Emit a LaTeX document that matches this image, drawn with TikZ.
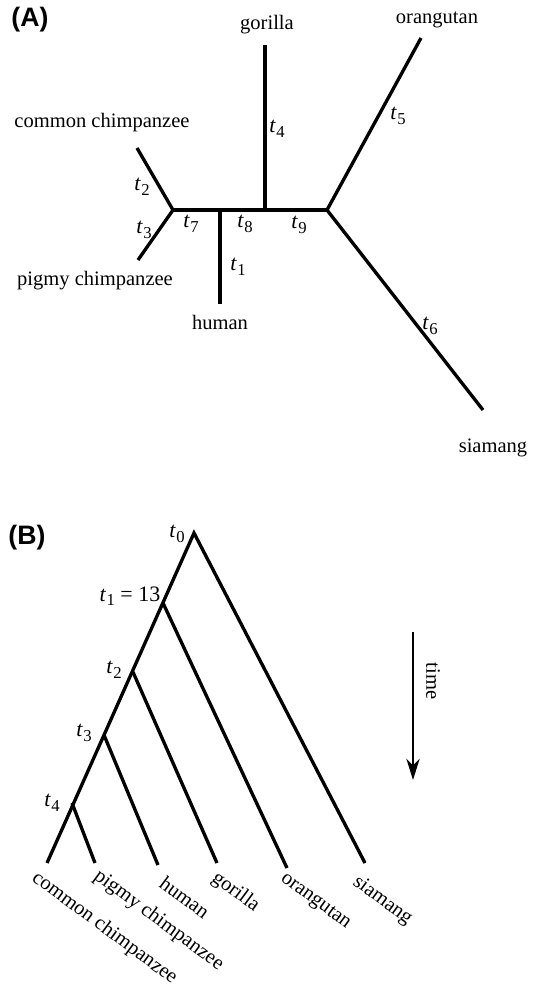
\documentclass[tikz,border=0pt]{standalone}
\usepackage{fontspec}
\setmainfont{Liberation Serif}
\newfontfamily\panelfont{Liberation Sans}
\usetikzlibrary{arrows.meta}
\newcommand\tv[1]{\textit{t}\kern0.3pt\raisebox{-0.45ex}{\fontsize{12.5}{13}\selectfont #1}}
\begin{document}
\begin{tikzpicture}[x=0.75pt,y=-0.75pt,
  br/.style={line width=2.5pt,line cap=butt},
  lbl/.style={font=\fontsize{15.4}{18}\selectfont,inner sep=0pt},
  tlab/.style={font=\fontsize{16.5}{18}\selectfont,inner sep=0pt},
  leaf/.style={font=\fontsize{15.4}{18}\selectfont,inner sep=0pt,rotate=-36.5,anchor=base west},
  panel/.style={font=\panelfont\bfseries\fontsize{20}{22}\selectfont,inner sep=0pt}]
\useasboundingbox (0,0) rectangle (540,988);
% ---------- Panel A ----------
\node[panel] (pA) at (30,20) {(A)};
\coordinate (cL) at (173,210);
\coordinate (cH) at (220,210);
\coordinate (cG) at (265,210);
\coordinate (cR) at (327,210);
\coordinate (aCom) at (137,148);
\coordinate (aPig) at (138,260);
\coordinate (aHum) at (220,304);
\coordinate (aGor) at (265,45);
\coordinate (aOra) at (421,38);
\coordinate (aSia) at (483,410);
\draw[br] (cL) -- (cR);
\draw[br] (aCom) -- (cL) -- (aPig);
\draw[br] (cH) -- (aHum);
\draw[br] (cG) -- (aGor);
\draw[br] (aOra) -- (cR) -- (aSia);
\node[lbl] (lGorA) at (267,25) {gorilla};
\node[lbl] (lComA) at (102,123) {common chimpanzee};
\node[lbl] (lPigA) at (95,281) {pigmy chimpanzee};
\node[lbl] (lHumA) at (220,322) {human};
\node[lbl] (lOraA) at (437,20) {orangutan};
\node[lbl] (lSiaA) at (493,448) {siamang};
\node[tlab] (a2) at (142,187) {\tv{2}};
\node[tlab] (a3) at (144,230) {\tv{3}};
\node[tlab] (a7) at (191,224) {\tv{7}};
\node[tlab] (a8) at (245,224) {\tv{8}};
\node[tlab] (a9) at (299,225) {\tv{9}};
\node[tlab] (a4) at (277,129) {\tv{4}};
\node[tlab] (a1) at (238,267) {\tv{1}};
\node[tlab] (a5) at (398,116) {\tv{5}};
\node[tlab] (a6) at (430,326) {\tv{6}};
% ---------- Panel B ----------
\node[panel] (pB) at (27,538) {(B)};
\coordinate (r0) at (194,533);
\coordinate (n1) at (163,603);
\coordinate (n2) at (133,672);
\coordinate (n3) at (104,735);
\coordinate (n4) at (72,803);
\coordinate (bCom) at (47,863);
\coordinate (bPig) at (95,863);
\coordinate (bHum) at (158,865);
\coordinate (bGor) at (217,863);
\coordinate (bOra) at (287,868);
\coordinate (bSia) at (365,863);
\draw[br,line join=miter] (bCom) -- (r0) -- (bSia);
\draw[br] (n1) -- (bOra);
\draw[br] (n2) -- (bGor);
\draw[br] (n3) -- (bHum);
\draw[br] (n4) -- (bPig);
\node[tlab] (b0) at (177,534) {\tv{0}};
\node[tlab] (b1) at (130,596) {\tv{1} = 13};
\node[tlab] (b2) at (114,670) {\tv{2}};
\node[tlab] (b3) at (84,733) {\tv{3}};
\node[tlab] (b4) at (52,803) {\tv{4}};
\node[leaf] (lComB) at (31,880) {common chimpanzee};
\node[leaf] (lPigB) at (93,878) {pigmy chimpanzee};
\node[leaf] (lHumB) at (158,886) {human};
\node[leaf] (lGorB) at (211,880) {gorilla};
\node[leaf] (lOraB) at (280,880) {orangutan};
\node[leaf] (lSiaB) at (352,884) {siamang};
% time arrow
\coordinate (tTop) at (413,632);
\coordinate (tBot) at (413,780);
\draw[line width=1.4pt,-{Stealth[length=16pt,width=10pt,inset=5pt]}] (tTop) -- (tBot);
\node[lbl,rotate=-90] (tm) at (433,681) {time};
\end{tikzpicture}
\end{document}
